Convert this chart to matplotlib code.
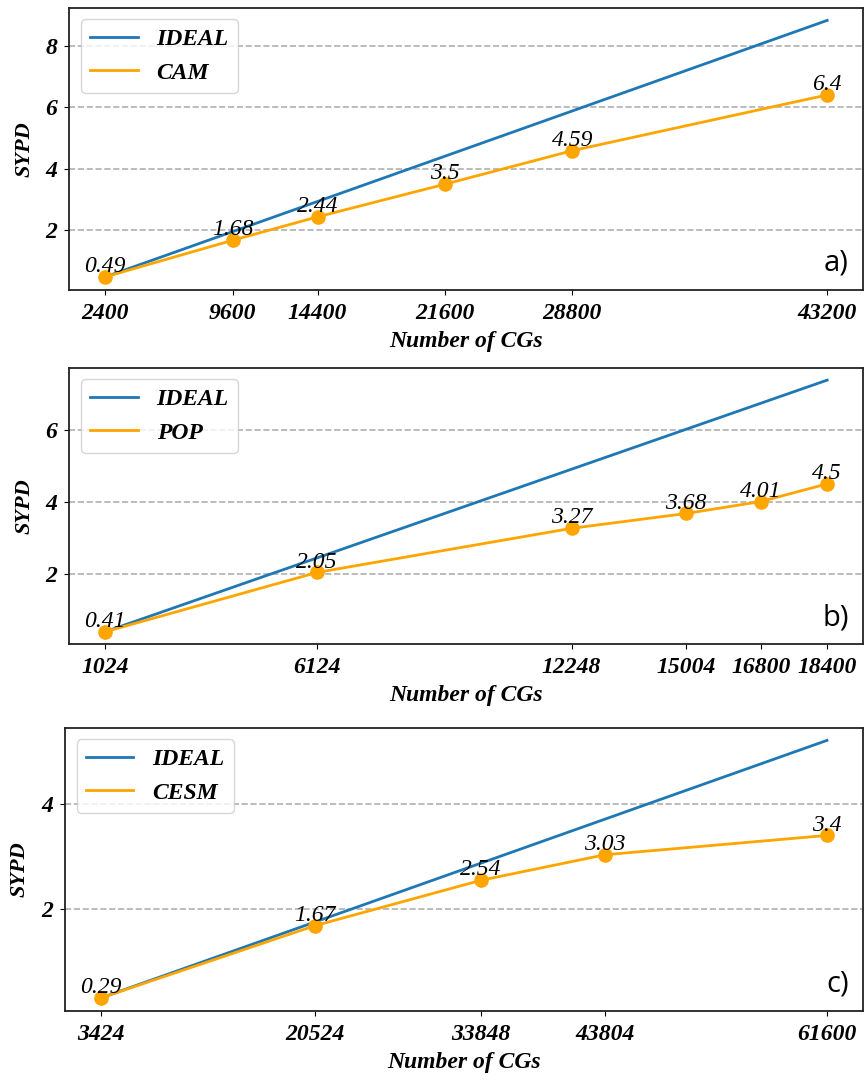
import matplotlib.pyplot as plt

# panel a) CAM
cam_cgs = [2400, 9600, 14400, 21600, 28800, 43200]
cam_sypd = [0.49, 1.68, 2.44, 3.5, 4.59, 6.4]
cam_ideal = [0.49, 8.82]

# panel b) POP
pop_cgs = [1024, 6124, 12248, 15004, 16800, 18400]
pop_sypd = [0.41, 2.05, 3.27, 3.68, 4.01, 4.5]
pop_ideal = [0.41, 7.37]

# panel c) CESM
cesm_cgs = [3424, 20524, 33848, 43804, 61600]
cesm_sypd = [0.29, 1.67, 2.54, 3.03, 3.4]
cesm_ideal = [0.29, 5.22]

panels = [
	("CAM", cam_cgs, cam_sypd, cam_ideal, [2, 4, 6, 8], "a)"),
	("POP", pop_cgs, pop_sypd, pop_ideal, [2, 4, 6], "b)"),
	("CESM", cesm_cgs, cesm_sypd, cesm_ideal, [2, 4], "c)"),
]

boxes = [
	[0.080, 0.732, 0.918, 0.261],
	[0.080, 0.404, 0.918, 0.256],
	[0.075, 0.065, 0.923, 0.262],
]

serif = "Liberation Serif"
fig = plt.figure(figsize=(8.65, 10.81), dpi=100)

for (name, xs, ys, ideal, yticks, tag), box in zip(panels, boxes):
	ax = fig.add_axes(box)
	ax.plot([xs[0], xs[-1]], ideal, color="#1f77b4", lw=2, label="IDEAL")
	ax.plot(xs, ys, color="#FFA500", lw=2, label=name)
	ax.plot(xs, ys, color="#FFA500", ls="none", marker="o", ms=9.5)
	for x, y in zip(xs, ys):
		ax.annotate("%g" % y, (x, y), xytext=(0, 3.5), textcoords="offset points",
			ha="center", va="baseline", fontsize=17, family=serif, style="italic")
	ax.set_xticks(xs)
	ax.set_xticklabels([str(x) for x in xs])
	ax.set_yticks(yticks)
	ax.tick_params(axis="x", pad=6)
	ax.tick_params(axis="y", pad=5)
	ax.grid(axis="y", ls="--", color="#b0b0b0", lw=1.2)
	ax.set_axisbelow(True)
	for lab in ax.get_xticklabels() + ax.get_yticklabels():
		lab.set_family(serif)
		lab.set_style("italic")
		lab.set_weight("bold")
		lab.set_fontsize(17)
	ax.set_xlabel("Number of CGs", family=serif, style="italic", weight="bold", fontsize=17, labelpad=5)
	ax.set_ylabel("SYPD", family=serif, style="italic", weight="bold", fontsize=16, labelpad=8)
	ax.legend(loc="upper left", prop={"family": serif, "style": "italic", "weight": "bold", "size": 17})
	ax.text(0.982, 0.095, tag, transform=ax.transAxes, ha="right", va="center",
		fontsize=21, family="Open Sans")
	for sp in ax.spines.values():
		sp.set_color("#222222")
		sp.set_linewidth(1.3)

fig.savefig("out.png", dpi=100)
